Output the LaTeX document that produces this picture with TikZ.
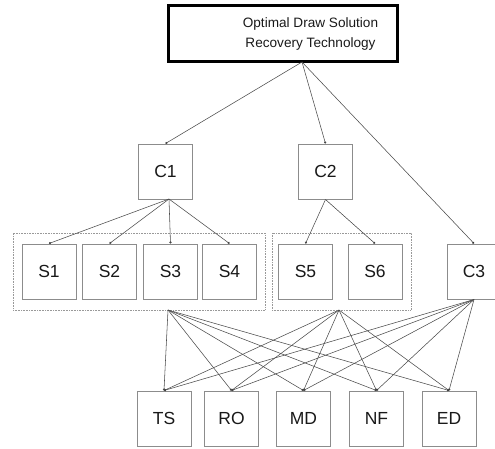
\documentclass[tikz,border=0pt]{standalone}
\usepackage{fontspec}
\setmainfont{Liberation Sans}
\usetikzlibrary{arrows.meta,calc}
\tikzset{
  box/.style={draw=black!45, line width=1pt, fill=white, minimum width=54pt, minimum height=55pt, inner sep=0pt, font=\fontsize{17.5}{17.5}\selectfont, text=black!90},
  group/.style={draw=black!40, densely dotted, line width=0.6pt, inner sep=0pt},
  link/.style={draw=black!70, line width=0.55pt, -{Circle[length=2.2pt,fill=black]}},
}
\begin{document}
\begin{tikzpicture}[x=1pt,y=-1pt]
\useasboundingbox (0,0) rectangle (495,448);
% top
\node[draw=black, line width=2.3pt, minimum width=229pt, minimum height=56pt, inner sep=0pt] (top) at (283,33.5) {};
\node[align=center, font=\fontsize{13.6}{20}\selectfont, text=black!90] (toptext) at (310.5,33.5) {Optimal Draw Solution\\Recovery Technology};
\coordinate (tp) at (302,62);
% groups
\node[group, minimum width=252pt, minimum height=77pt] (g1) at (139,271.5) {};
\node[group, minimum width=139pt, minimum height=77pt] (g2) at (341.5,271.5) {};
\coordinate (g1b) at (168,310);
\coordinate (g2b) at (339,310);
% criteria
\node[box] (C1) at (165.5,171.5) {C1};
\node[box] (C2) at (325.5,171.5) {C2};
\node[box] (C3) at (474,271.5) {C3};
% sub
\node[box] (S1) at (49,271.5) {S1};
\node[box] (S2) at (109.5,271.5) {S2};
\node[box] (S3) at (170.5,271.5) {S3};
\node[box] (S4) at (229.5,271.5) {S4};
\node[box] (S5) at (305.5,271.5) {S5};
\node[box] (S6) at (375,271.5) {S6};
% bottom
\node[box] (TS) at (164,418.5) {TS};
\node[box] (RO) at (231.5,418.5) {RO};
\node[box] (MD) at (303.5,418.5) {MD};
\node[box] (NF) at (376.5,418.5) {NF};
\node[box] (ED) at (449,418.5) {ED};
\coordinate (c1b) at (169,199);
% links
\foreach \t in {C1,C2,C3} \draw[link] (tp) -- (\t.north);
\foreach \t in {S1,S2,S3,S4} \draw[link] (c1b) -- (\t.north);
\foreach \t in {S5,S6} \draw[link] (C2.south) -- (\t.north);
\foreach \s in {g1b,g2b,C3.south}
  \foreach \t in {TS,RO,MD,NF,ED}
    \draw[link] (\s) -- (\t.north);
\end{tikzpicture}
\end{document}
